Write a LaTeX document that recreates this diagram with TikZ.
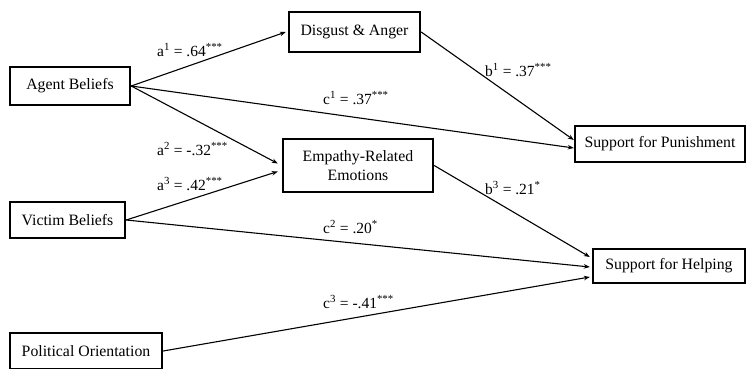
\documentclass[tikz,border=0pt]{standalone}
\usepackage{fontspec}
\setmainfont{Liberation Serif}
\usetikzlibrary{arrows.meta}
\begin{document}
\begin{tikzpicture}[x=1pt,y=-1pt,
  box/.style={draw,line width=2.4pt,inner sep=0pt,font=\fontsize{15.8}{19}\selectfont,align=center},
  link/.style={line width=1.1pt,-{Stealth[length=6pt,width=4.5pt]}},
  lab/.style={font=\fontsize{15.5}{17}\selectfont,inner sep=0pt}]
\useasboundingbox (0,0) rectangle (747,369);
\node[box,minimum width=131pt,minimum height=40pt] (disgust) at (354.5,32) {Disgust \& Anger};
\node[box,minimum width=120pt,minimum height=38pt] (agent) at (70,86) {Agent Beliefs};
\node[box,minimum width=150pt,minimum height=53pt] (empathy) at (358,165.5) {Empathy-Related\\Emotions};
\node[box,minimum width=170pt,minimum height=36pt] (punish) at (660,144) {Support for Punishment};
\node[box,minimum width=115pt,minimum height=36pt] (victim) at (67.5,220) {Victim Beliefs};
\node[box,minimum width=152pt,minimum height=36pt] (political) at (86,351) {Political Orientation};
\node[box,minimum width=152pt,minimum height=34pt] (helping) at (669,266) {Support for Helping};

\draw[link] (agent.east) -- ([xshift=-2pt]disgust.west);
\draw[link] (agent.east) -- ([yshift=-4pt]punish.west);
\draw[link] (agent.east) -- ([xshift=-4pt,yshift=2pt]empathy.west);
\draw[link] (victim.east) -- ([xshift=-4pt,yshift=-6pt]empathy.west);
\draw[link] (disgust.east) -- ([yshift=4pt]punish.west);
\draw[link] (empathy.east) -- ([xshift=-2pt,yshift=9pt]helping.west);
\draw[link] (victim.east) -- ([xshift=-2pt,yshift=-1pt]helping.west);
\draw[link] (political.east) -- ([xshift=-2pt,yshift=-11pt]helping.west);

\node[lab,anchor=west] (la1) at (157,50) {a\textsuperscript{1} = .64\textsuperscript{***}};
\node[lab,anchor=west] (lc1) at (323,98) {c\textsuperscript{1} = .37\textsuperscript{***}};
\node[lab,anchor=west] (la2) at (157,149) {a\textsuperscript{2} = -.32\textsuperscript{***}};
\node[lab,anchor=west] (la3) at (157,184) {a\textsuperscript{3} = .42\textsuperscript{***}};
\node[lab,anchor=west] (lb1) at (485,70) {b\textsuperscript{1} = .37\textsuperscript{***}};
\node[lab,anchor=west] (lb3) at (485,188) {b\textsuperscript{3} = .21\textsuperscript{*}};
\node[lab,anchor=west] (lc2) at (323,227) {c\textsuperscript{2} = .20\textsuperscript{*}};
\node[lab,anchor=west] (lc3) at (323,302) {c\textsuperscript{3} = -.41\textsuperscript{***}};
\end{tikzpicture}
\end{document}
